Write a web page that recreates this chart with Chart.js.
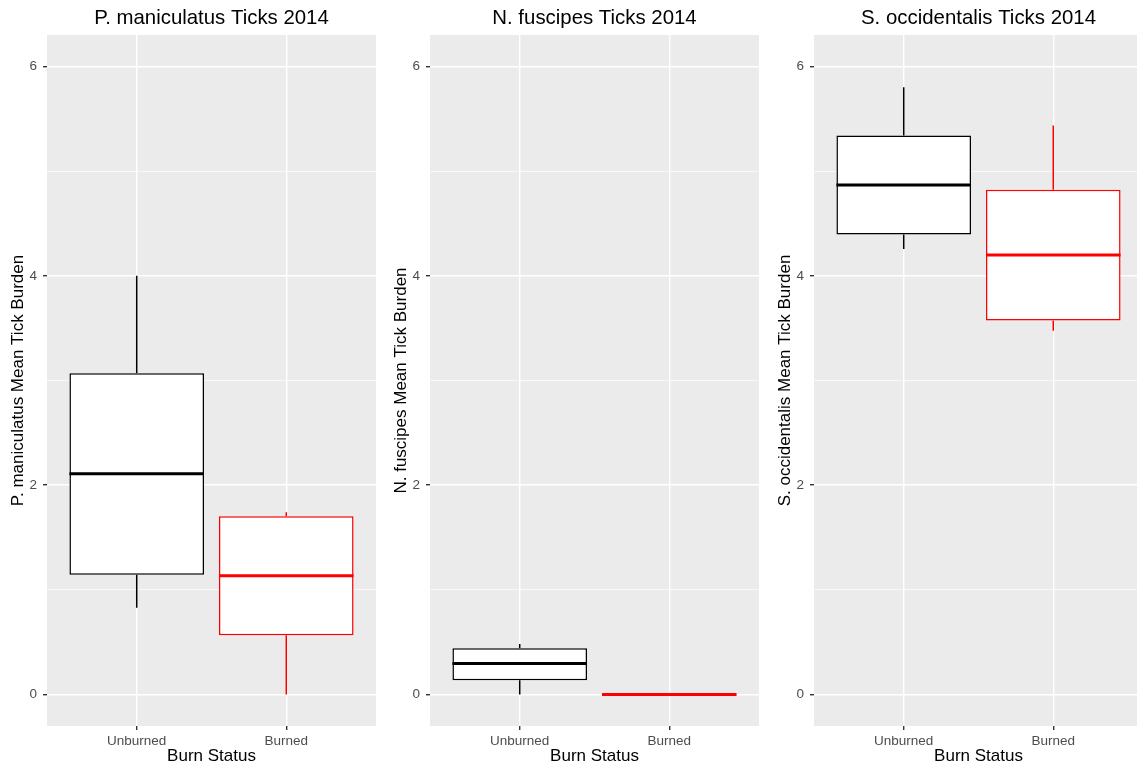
<!DOCTYPE html>
<html><head><meta charset="utf-8">
<script src="https://cdn.jsdelivr.net/npm/chart.js@4.4.1/dist/chart.umd.min.js"></script>
<style>
html,body{margin:0;padding:0;background:#fff;width:1137px;height:771px;overflow:hidden;position:relative}
canvas{position:absolute;top:0}
</style></head><body>
<canvas id="c0" width="383" height="771" style="left:0px"></canvas>
<canvas id="c1" width="383" height="771" style="left:383px"></canvas>
<canvas id="c2" width="383" height="771" style="left:767px"></canvas>
<script>
// ---- data ----
const categories = ['Unburned', 'Burned'];
const panelTitles = ['P. maniculatus Ticks 2014', 'N. fuscipes Ticks 2014', 'S. occidentalis Ticks 2014'];
const yTitles = ['P. maniculatus Mean Tick Burden', 'N. fuscipes Mean Tick Burden', 'S. occidentalis Mean Tick Burden'];
const xTitle = 'Burn Status';
const yMajorTicks = [0, 2, 4, 6];
const yMinorTicks = [1, 3, 5];

const pmanMin = [0.83, 0.00];
const pmanQ1  = [1.144, 0.567];
const pmanMed = [2.11, 1.134];
const pmanQ3  = [3.07, 1.704];
const pmanMax = [4.00, 1.742];

const nfusMin = [0.00, 0.00];
const nfusQ1  = [0.137, 0.00];
const nfusMed = [0.296, 0.00];
const nfusQ3  = [0.443, 0.00];
const nfusMax = [0.484, 0.00];

const soccMin = [4.255, 3.475];
const soccQ1  = [4.395, 3.573];
const soccMed = [4.867, 4.198];
const soccQ3  = [5.34, 4.822];
const soccMax = [5.80, 5.436];

const boxColors = ['#000000', '#FF0000'];
const FONT = '"Liberation Sans", Arial, Helvetica, sans-serif';

const panelBg = {
  id: 'panelBg',
  beforeDraw(chart) {
    const {ctx, chartArea: a} = chart;
    ctx.save();
    ctx.fillStyle = '#EBEBEB';
    ctx.fillRect(a.left, a.top, a.right - a.left, a.bottom - a.top);
    ctx.restore();
  }
};

function makeChart(id, title, yTitle, mins, q1s, meds, q3s, maxs) {
  const extras = {
    id: 'boxExtras',
    beforeDatasetsDraw(chart) {
      const ctx = chart.ctx, ys = chart.scales.y;
      const meta = chart.getDatasetMeta(0);
      ctx.save();
      ctx.lineWidth = 1.5;
      meta.data.forEach((bar, i) => {
        ctx.strokeStyle = boxColors[i];
        ctx.beginPath();
        ctx.moveTo(bar.x, ys.getPixelForValue(q3s[i]));
        ctx.lineTo(bar.x, ys.getPixelForValue(maxs[i]));
        ctx.moveTo(bar.x, ys.getPixelForValue(q1s[i]));
        ctx.lineTo(bar.x, ys.getPixelForValue(mins[i]));
        ctx.stroke();
      });
      ctx.restore();
    },
    afterDatasetsDraw(chart) {
      const ctx = chart.ctx, ys = chart.scales.y;
      const meta = chart.getDatasetMeta(0);
      ctx.save();
      ctx.lineWidth = 3;
      meta.data.forEach((bar, i) => {
        const half = bar.width / 2;
        const yy = ys.getPixelForValue(meds[i]);
        ctx.strokeStyle = boxColors[i];
        ctx.beginPath();
        ctx.moveTo(bar.x - half, yy);
        ctx.lineTo(bar.x + half, yy);
        ctx.stroke();
      });
      ctx.restore();
    }
  };
  return new Chart(document.getElementById(id), {
    type: 'bar',
    data: {
      datasets: [{
        data: categories.map((c, i) => ({x: i + 1, y: [q1s[i], q3s[i]]})),
        backgroundColor: '#FFFFFF',
        borderColor: boxColors,
        borderWidth: 1.5,
        borderSkipped: false,
        categoryPercentage: 0.9,
        barPercentage: 1.0
      }]
    },
    plugins: [panelBg, extras],
    options: {
      responsive: false,
      animation: false,
      devicePixelRatio: 1,
      layout: {padding: {left: 0, right: 7, top: 0, bottom: 0}},
      plugins: {
        legend: {display: false},
        tooltip: {enabled: false},
        title: {
          display: true, text: title, fullSize: false, color: '#000000',
          font: {family: FONT, size: 20.4, weight: 'normal'},
          padding: {top: 6, bottom: 4.5}
        }
      },
      scales: {
        x: {
          type: 'linear', min: 0.4, max: 2.6, offset: false,
          afterBuildTicks: s => { s.ticks = categories.map((c, i) => ({value: i + 1})); },
          afterFit: s => { s.height = 45; },
          border: {display: false},
          grid: {offset: false, color: '#FFFFFF', lineWidth: 1.4, tickColor: '#333333', tickLength: 4, drawTicks: true},
          ticks: {
            autoSkip: false, maxRotation: 0, padding: 3, color: '#4D4D4D',
            font: {family: FONT, size: 13.5},
            callback: v => categories[v - 1]
          },
          title: {display: true, text: xTitle, color: '#000000', font: {family: FONT, size: 17}, padding: {top: 0, bottom: 4}}
        },
        y: {
          type: 'linear', min: -0.3, max: 6.3,
          afterBuildTicks: s => { s.ticks = yMajorTicks.concat(yMinorTicks).sort((a, b) => a - b).map(v => ({value: v})); },
          afterFit: s => { s.width = 47; },
          border: {display: false},
          grid: {
            color: '#FFFFFF',
            lineWidth: c => yMajorTicks.includes(c.tick.value) ? 1.4 : 0.7,
            tickColor: c => yMajorTicks.includes(c.tick.value) ? '#333333' : 'rgba(0,0,0,0)',
            tickLength: 4, drawTicks: true
          },
          ticks: {
            autoSkip: false, padding: 6, color: '#4D4D4D',
            font: {family: FONT, size: 13.5},
            callback: v => yMajorTicks.includes(v) ? String(v) : ''
          },
          title: {display: true, text: yTitle, color: '#000000', font: {family: FONT, size: 17}, padding: {top: 7.8, bottom: 0}}
        }
      }
    }
  });
}

makeChart('c0', panelTitles[0], yTitles[0], pmanMin, pmanQ1, pmanMed, pmanQ3, pmanMax);
makeChart('c1', panelTitles[1], yTitles[1], nfusMin, nfusQ1, nfusMed, nfusQ3, nfusMax);
makeChart('c2', panelTitles[2], yTitles[2], soccMin, soccQ1, soccMed, soccQ3, soccMax);
</script>
</body></html>
